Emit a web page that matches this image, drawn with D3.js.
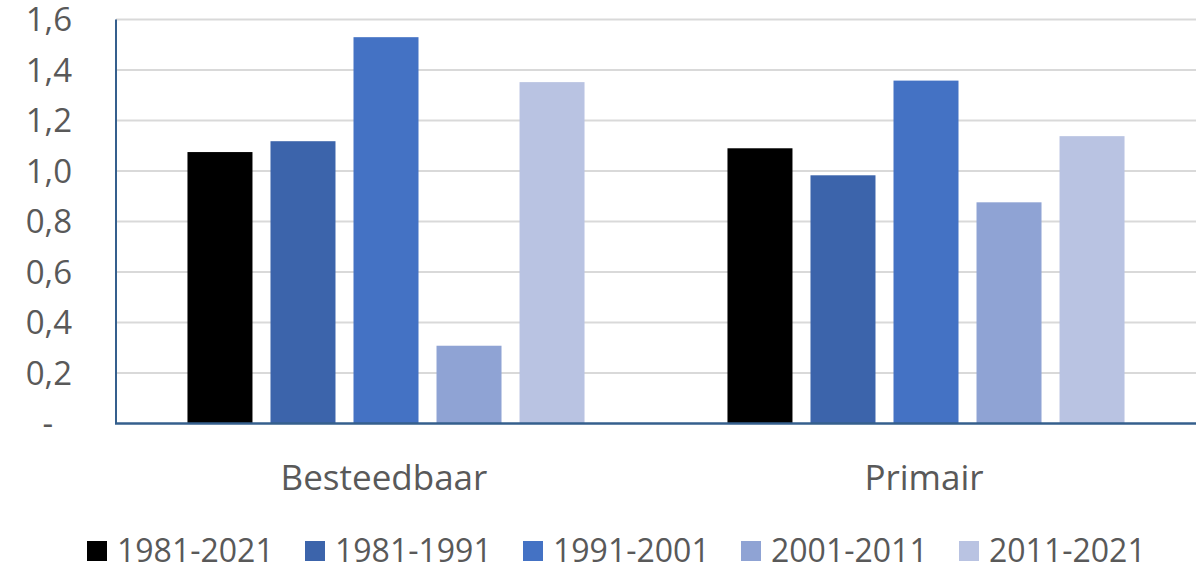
<!DOCTYPE html>
<html>
<head>
<meta charset="utf-8">
<script src="https://cdn.jsdelivr.net/npm/d3@7"></script>
<style>
  body { margin: 0; background: #fff; }
  text { font-family: "Open Sans", sans-serif; fill: #595959; }
</style>
</head>
<body>
<svg id="chart" width="1198" height="565"></svg>
<script>
const CATEGORIES = ['Besteedbaar', 'Primair'];
const SERIES = ['1981-2021', '1981-1991', '1991-2001', '2001-2011', '2011-2021'];
const COLORS = ['#000000', '#3c64ab', '#4472c4', '#8fa3d4', '#b9c3e2'];
// values per series, in category order
const V_1981_2021 = [1.075, 1.090];
const V_1981_1991 = [1.118, 0.983];
const V_1991_2001 = [1.530, 1.358];
const V_2001_2011 = [0.308, 0.876];
const V_2011_2021 = [1.352, 1.138];
const VALUES = [V_1981_2021, V_1981_1991, V_1991_2001, V_2001_2011, V_2011_2021];
const Y_TICKS = [0, 0.2, 0.4, 0.6, 0.8, 1.0, 1.2, 1.4, 1.6];

const svg = d3.select('#chart');
const M = { left: 116, right: 1196, top: 19.5, bottom: 423.5 };

let x0 = d3.scaleBand().domain(CATEGORIES).range([M.left, M.right]).paddingInner(0).paddingOuter(0);
let x1 = d3.scaleBand().domain(SERIES).range([0, x0.bandwidth()])
  .paddingInner(0.217).paddingOuter(0.861);
let y = d3.scaleLinear().domain([0, 1.6]).range([M.bottom, M.top]);

// gridlines
svg.append('g')
  .selectAll('line')
  .data(Y_TICKS.filter(d => d > 0))
  .enter()
  .append('line')
  .attr('x1', M.left).attr('x2', M.right)
  .attr('y1', d => y(d)).attr('y2', d => y(d))
  .attr('stroke', '#d9d9d9').attr('stroke-width', 2);

// y labels
let axisY = svg.append('g')
  .attr('transform', `translate(${M.left},0)`)
  .call(d3.axisLeft(y).tickValues(Y_TICKS).tickSize(0).tickPadding(44)
    .tickFormat(d => d === 0 ? '-\u2007' : d3.format('.1f')(d).replace('.', ',')));
axisY.select('.domain').remove();
axisY.selectAll('text').style('font-size', '33px').attr('fill', '#595959').attr('dy', '0.34em');

// bars
let groups = svg.append('g')
  .selectAll('g')
  .data(SERIES)
  .enter()
  .append('g')
  .attr('fill', (d, i) => COLORS[i]);

groups.selectAll('rect')
  .data((s, i) => CATEGORIES.map((c, j) => ({ cat: c, ser: s, v: VALUES[i][j] })))
  .enter()
  .append('rect')
  .attr('x', d => x0(d.cat) + x1(d.ser))
  .attr('width', x1.bandwidth())
  .attr('y', d => y(d.v))
  .attr('height', d => y(0) - y(d.v));

// axis lines
svg.append('line')
  .attr('x1', M.left).attr('x2', M.left).attr('y1', M.top).attr('y2', M.bottom)
  .attr('stroke', '#355f8d').attr('stroke-width', 2);
svg.append('line')
  .attr('x1', M.left - 1).attr('x2', M.right).attr('y1', M.bottom).attr('y2', M.bottom)
  .attr('stroke', '#355f8d').attr('stroke-width', 2.5);

// category labels
svg.append('g')
  .selectAll('text')
  .data(CATEGORIES)
  .enter()
  .append('text')
  .attr('x', d => x0(d) + x0.bandwidth() / 2 - 2)
  .attr('y', 490)
  .attr('text-anchor', 'middle')
  .style('font-size', '35px')
  .text(d => d);

// legend
let legend = svg.append('g')
  .selectAll('g')
  .data(SERIES)
  .enter()
  .append('g')
  .attr('transform', (d, i) => `translate(${87 + i * 218},0)`);
legend.append('rect')
  .attr('x', 0).attr('y', 541)
  .attr('width', 20).attr('height', 20)
  .attr('fill', (d, i) => COLORS[i]);
legend.append('text')
  .attr('x', 30).attr('y', 562)
  .style('font-size', '32px')
  .text(d => d);
</script>
</body>
</html>
